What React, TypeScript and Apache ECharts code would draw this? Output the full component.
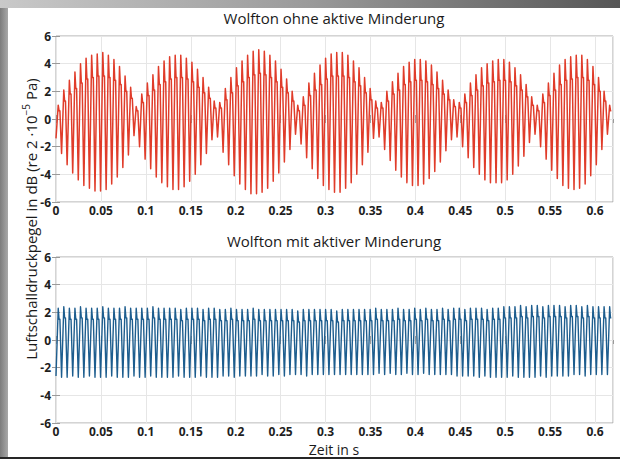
import React, { useEffect, useRef } from "react";
import * as echarts from "echarts";

// ---- data ----
const TITLE_TOP = "Wolfton ohne aktive Minderung";
const TITLE_BOTTOM = "Wolfton mit aktiver Minderung";
const X_TITLE = "Zeit in s";
const X_MIN = 0;
const X_MAX = 0.62;
const X_STEP = 0.05;
const Y_MIN = -6;
const Y_MAX = 6;
const Y_STEP = 2;

// sampling of the recorded signal: one carrier cycle lasts CYCLE_S seconds,
// each cycle is stored as trough, peak, shoulder, shoulder (phases in fraction of cycle)
const CYCLE_S = 0.0062;
const CYCLE_PHASES = [0, 0.4, 0.55, 0.7];

// upper plot (without active reduction): per-cycle peak, trough and shoulder levels
const TOP_MAX = [
  1.0, 2.1, 2.8, 3.4, 4.0, 4.4, 4.6, 4.7, 4.8, 4.6, 4.3, 3.8, 3.1, 2.3,
  0.9, 1.8, 2.6, 3.2, 3.8, 4.2, 4.5, 4.6, 4.6, 4.4, 4.1, 3.6, 3.0, 2.3, 1.3,
  1.2, 2.2, 3.0, 3.7, 4.2, 4.6, 4.9, 5.0, 4.9, 4.6, 4.2, 3.6, 2.9, 2.0,
  1.0, 1.6, 2.6, 3.3, 3.9, 4.4, 4.7, 4.8, 4.8, 4.6, 4.2, 3.7, 3.0, 2.2, 1.3,
  1.2, 2.0, 2.7, 3.3, 3.8, 4.1, 4.3, 4.3, 4.2, 3.9, 3.4, 2.8, 2.1, 1.4,
  1.2, 1.8, 2.6, 3.2, 3.7, 4.0, 4.2, 4.3, 4.3, 4.1, 3.7, 3.2, 2.5, 1.6,
  1.0, 1.8, 2.6, 3.3, 3.9, 4.3, 4.5, 4.6, 4.6, 4.3, 3.8, 3.0, 2.0, 1.0,
];
const TOP_MIN = [
  -1.4, -2.5, -3.3, -3.9, -4.4, -4.8, -5.0, -5.2, -5.2, -5.1, -4.7, -4.2, -3.5, -2.6,
  -1.2, -2.0, -2.9, -3.6, -4.2, -4.6, -4.9, -5.1, -5.1, -4.9, -4.5, -4.0, -3.3, -2.5, -1.5,
  -1.3, -2.4, -3.3, -4.1, -4.7, -5.1, -5.4, -5.4, -5.3, -5.0, -4.5, -3.9, -3.1, -2.2,
  -1.1, -1.8, -2.8, -3.6, -4.3, -4.8, -5.1, -5.3, -5.3, -5.0, -4.6, -4.0, -3.3, -2.4, -1.4,
  -1.3, -2.2, -3.0, -3.7, -4.2, -4.6, -4.8, -4.8, -4.7, -4.3, -3.8, -3.1, -2.3, -1.5,
  -1.3, -2.0, -2.8, -3.5, -4.0, -4.4, -4.6, -4.6, -4.6, -4.4, -4.0, -3.4, -2.7, -1.7,
  -1.1, -2.0, -2.9, -3.7, -4.3, -4.8, -5.0, -5.1, -5.0, -4.7, -4.1, -3.3, -2.2, -1.1,
];
const TOP_SHOULDER = [
  0.6, 1.3, 1.8, 2.2, 2.6, 2.9, 3.0, 3.1, 3.1, 3.0, 2.8, 2.5, 2.0, 1.5,
  0.6, 1.2, 1.7, 2.1, 2.5, 2.7, 2.9, 3.0, 3.0, 2.9, 2.7, 2.3, 1.9, 1.5, 0.8,
  0.8, 1.4, 1.9, 2.4, 2.7, 3.0, 3.2, 3.3, 3.2, 3.0, 2.7, 2.3, 1.9, 1.3,
  0.6, 1.0, 1.7, 2.1, 2.5, 2.9, 3.1, 3.1, 3.1, 3.0, 2.7, 2.4, 1.9, 1.4, 0.8,
  0.8, 1.3, 1.8, 2.1, 2.5, 2.7, 2.8, 2.8, 2.7, 2.5, 2.2, 1.8, 1.4, 0.9,
  0.8, 1.2, 1.7, 2.1, 2.4, 2.6, 2.7, 2.8, 2.8, 2.7, 2.4, 2.1, 1.6, 1.0,
  0.6, 1.2, 1.7, 2.1, 2.5, 2.8, 2.9, 3.0, 3.0, 2.8, 2.5, 2.0, 1.3, 0.6,
];

// lower plot (with active reduction)
const BOT_MAX = [
  2.3, 2.4, 2.3, 2.3, 2.4, 2.3, 2.3, 2.3, 2.4, 2.3, 2.3, 2.3, 2.4, 2.3, 2.3, 2.3, 2.3, 2.4, 2.3, 2.3,
  2.3, 2.3, 2.2, 2.3, 2.3, 2.3, 2.2, 2.3, 2.3, 2.2, 2.2, 2.3, 2.2, 2.2, 2.2, 2.3, 2.2, 2.2, 2.2, 2.2,
  2.2, 2.2, 2.2, 2.1, 2.2, 2.2, 2.2, 2.2, 2.2, 2.2, 2.1, 2.2, 2.2, 2.2, 2.2, 2.2, 2.2, 2.3, 2.2, 2.2,
  2.2, 2.3, 2.2, 2.2, 2.3, 2.2, 2.3, 2.2, 2.2, 2.3, 2.2, 2.3, 2.3, 2.2, 2.3, 2.3, 2.3, 2.2, 2.3, 2.3,
  2.4, 2.4, 2.4, 2.5, 2.4, 2.5, 2.5, 2.4, 2.5, 2.5, 2.5, 2.4, 2.5, 2.5, 2.4, 2.5, 2.4, 2.4, 2.4, 2.4,
];
const BOT_MIN = [
  -2.6, -2.7, -2.7, -2.6, -2.7, -2.7, -2.6, -2.7, -2.7, -2.7, -2.6, -2.7, -2.7, -2.7, -2.6, -2.7, -2.7, -2.6, -2.7, -2.7,
  -2.7, -2.7, -2.6, -2.7, -2.7, -2.7, -2.6, -2.7, -2.7, -2.7, -2.6, -2.6, -2.7, -2.6, -2.6, -2.6, -2.6, -2.5, -2.6, -2.6,
  -2.5, -2.6, -2.5, -2.5, -2.5, -2.6, -2.5, -2.5, -2.5, -2.5, -2.5, -2.5, -2.5, -2.5, -2.5, -2.5, -2.5, -2.5, -2.4, -2.5,
  -2.4, -2.5, -2.5, -2.4, -2.5, -2.5, -2.4, -2.5, -2.5, -2.5, -2.5, -2.5, -2.6, -2.6, -2.6, -2.6, -2.7, -2.6, -2.7, -2.7,
  -2.7, -2.7, -2.6, -2.7, -2.7, -2.7, -2.7, -2.6, -2.7, -2.6, -2.6, -2.6, -2.6, -2.5, -2.5, -2.6, -2.5, -2.5, -2.5, -2.5,
];
const BOT_SHOULDER = [
  1.5, 1.6, 1.5, 1.5, 1.6, 1.5, 1.5, 1.5, 1.6, 1.5, 1.5, 1.5, 1.6, 1.5, 1.5, 1.5, 1.5, 1.6, 1.5, 1.5,
  1.5, 1.5, 1.4, 1.5, 1.5, 1.5, 1.4, 1.5, 1.5, 1.4, 1.4, 1.5, 1.4, 1.4, 1.4, 1.5, 1.4, 1.4, 1.4, 1.4,
  1.4, 1.4, 1.4, 1.3, 1.4, 1.4, 1.4, 1.4, 1.4, 1.4, 1.3, 1.4, 1.4, 1.4, 1.4, 1.4, 1.4, 1.5, 1.4, 1.4,
  1.4, 1.5, 1.4, 1.4, 1.5, 1.4, 1.5, 1.4, 1.4, 1.5, 1.4, 1.5, 1.5, 1.4, 1.5, 1.5, 1.5, 1.4, 1.5, 1.5,
  1.6, 1.6, 1.6, 1.7, 1.6, 1.7, 1.7, 1.6, 1.7, 1.7, 1.7, 1.6, 1.7, 1.7, 1.6, 1.7, 1.6, 1.6, 1.6, 1.6,
];

function buildSignal(mins: number[], maxs: number[], shoulders: number[]) {
  const out: number[][] = [];
  for (let i = 0; i < mins.length; i++) {
    const t0 = i * CYCLE_S;
    const vals = [mins[i], maxs[i], shoulders[i], shoulders[i]];
    for (let k = 0; k < CYCLE_PHASES.length; k++) {
      out.push([+(t0 + CYCLE_PHASES[k] * CYCLE_S).toFixed(6), vals[k]]);
    }
  }
  return out;
}

const FONT = "'Open Sans', 'Noto Sans', sans-serif";

export default function App() {
  const ref = useRef<HTMLDivElement>(null);
  useEffect(() => {
    if (!ref.current) return;
    const chart = echarts.init(ref.current, undefined, { renderer: "svg" });
    const gridL = 56;
    const gridR = 7;
    const grids = [
      { left: gridL, right: gridR, top: 36, height: 166 },
      { left: gridL, right: gridR, top: 257, height: 166 },
    ];
    const fmt = (v: number) => String(+v.toFixed(2));
    const xAxes: any[] = [];
    const yAxes: any[] = [];
    grids.forEach((_, gi) => {
      xAxes.push({
        type: "value", gridIndex: gi, min: X_MIN, max: X_MAX, interval: X_STEP,
        axisLine: { show: false },
        axisTick: { show: true, inside: true, length: 4, lineStyle: { color: "#9a9a9a" } },
        splitLine: { show: true, lineStyle: { color: "#e6e6e6", width: 1 } },
        axisLabel: {
          show: true, showMaxLabel: false, margin: 2, formatter: fmt,
          color: "#1e1e1e", fontSize: 12, fontWeight: "bold", fontFamily: FONT,
        },
      });
      xAxes.push({
        type: "value", gridIndex: gi, position: "top", min: X_MIN, max: X_MAX, interval: X_STEP,
        axisLine: { show: false },
        axisTick: { show: true, inside: true, length: 4, lineStyle: { color: "#9a9a9a" } },
        splitLine: { show: false }, axisLabel: { show: false },
      });
      yAxes.push({
        type: "value", gridIndex: gi, min: Y_MIN, max: Y_MAX, interval: Y_STEP,
        axisLine: { show: false },
        axisTick: { show: true, inside: true, length: 4, lineStyle: { color: "#9a9a9a" } },
        splitLine: { show: true, lineStyle: { color: "#e6e6e6", width: 1 } },
        axisLabel: {
          show: true, margin: 5, formatter: fmt,
          color: "#1e1e1e", fontSize: 12, fontWeight: "bold", fontFamily: FONT,
        },
      });
      yAxes.push({
        type: "value", gridIndex: gi, position: "right", min: Y_MIN, max: Y_MAX, interval: Y_STEP,
        axisLine: { show: false },
        axisTick: { show: true, inside: true, length: 4, lineStyle: { color: "#9a9a9a" } },
        splitLine: { show: false }, axisLabel: { show: false },
      });
    });

    chart.setOption({
      animation: false,
      backgroundColor: "transparent",
      grid: grids.map((g) => ({ ...g, show: true, borderColor: "#a8a8a8", borderWidth: 1, backgroundColor: "transparent" })),
      xAxis: xAxes,
      yAxis: yAxes,
      series: [
        {
          type: "line", xAxisIndex: 0, yAxisIndex: 0, showSymbol: false, symbol: "none",
          data: buildSignal(TOP_MIN, TOP_MAX, TOP_SHOULDER),
          lineStyle: { color: "#e03c2a", width: 1.5, join: "round" }, z: 3,
        },
        {
          type: "line", xAxisIndex: 2, yAxisIndex: 2, showSymbol: false, symbol: "none",
          data: buildSignal(BOT_MIN, BOT_MAX, BOT_SHOULDER),
          lineStyle: { color: "#1d5d8e", width: 1.4, join: "round" }, z: 3,
        },
      ],
      graphic: [
        {
          type: "text", x: 334, y: 18,
          style: { text: TITLE_TOP, fontSize: 15, fontFamily: FONT, fill: "#1a1a1a", textAlign: "center", textVerticalAlign: "middle" },
        },
        {
          type: "text", x: 334, y: 241,
          style: { text: TITLE_BOTTOM, fontSize: 15, fontFamily: FONT, fill: "#1a1a1a", textAlign: "center", textVerticalAlign: "middle" },
        },
        {
          type: "text", x: 334, y: 449,
          style: { text: X_TITLE, fontSize: 14, fontFamily: FONT, fill: "#1a1a1a", textAlign: "center", textVerticalAlign: "middle" },
        },
        {
          type: "text", x: 31, y: 219, rotation: Math.PI / 2,
          style: {
            text: "{a|Luftschalldruckpegel in dB (re 2 ·10}{s|−5}{a| Pa)}",
            textAlign: "center", textVerticalAlign: "middle",
            rich: {
              a: { fontSize: 15, fontFamily: FONT, fill: "#1a1a1a", lineHeight: 20 },
              s: { fontSize: 10, fontFamily: FONT, fill: "#1a1a1a", verticalAlign: "top", lineHeight: 12 },
            },
          },
        },
      ],
    });
    return () => chart.dispose();
  }, []);

  return (
    <div style={{ position: "fixed", left: 0, top: 0, width: 620, height: 459, overflow: "hidden", background: "#ffffff" }}>
      <div style={{ position: "absolute", left: 0, top: 0, width: 620, height: 8, background: "linear-gradient(to right, #c9c9c9, #9a9a9a 50%, #565656)" }} />
      <div style={{ position: "absolute", left: 0, top: 8, width: 8, height: 451, background: "linear-gradient(to right, #7c7c7c, #a8a8a8)" }} />
      <div style={{ position: "absolute", left: 0, top: 457, width: 620, height: 2, background: "#262626" }} />
      <div ref={ref} style={{ position: "absolute", left: 0, top: 0, width: 620, height: 459 }} />
    </div>
  );
}
